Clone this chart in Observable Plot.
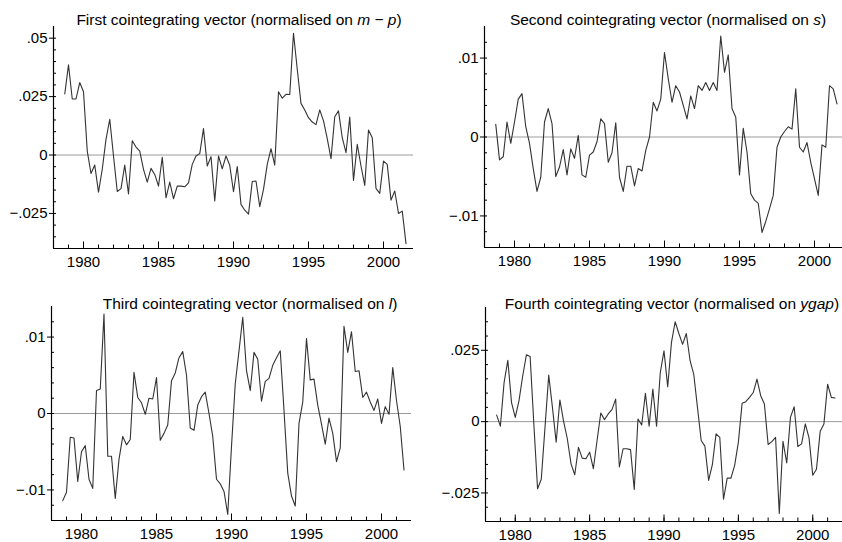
<!DOCTYPE html>
<html>
<head>
<meta charset="utf-8">
<script src="https://cdn.jsdelivr.net/npm/d3@7"></script>
<script src="https://cdn.jsdelivr.net/npm/@observablehq/plot@0.6"></script>
<style>
  html, body { margin: 0; padding: 0; background: #fff; }
  #chart { position: relative; width: 842px; height: 542px; overflow: hidden; font-family: "Liberation Sans", Arial, Helvetica, sans-serif; }
  #chart svg { position: absolute; overflow: visible; }
  .title { position: absolute; font-size: 15.5px; line-height: 18px; white-space: nowrap; transform: translateX(-50%); color: #000; }
</style>
</head>
<body>
<div id="chart"></div>
<script>
// Quarterly observations, 1978Q4 .. 2001Q3
const firstQuarter = 1978.75;

const firstVector = [
  0.0261, 0.0386, 0.0240, 0.0240, 0.0310, 0.0271, 0.0017, -0.0079, -0.0043, -0.0159,
  -0.0061, 0.0067, 0.0153, -0.0004, -0.0156, -0.0144, -0.0043, -0.0167, 0.0061, 0.0034,
  0.0017, -0.0061, -0.0116, -0.0057, -0.0083, -0.0133, -0.0010, -0.0183, -0.0116, -0.0187,
  -0.0133, -0.0133, -0.0136, -0.0119, -0.0040, -0.0004, 0.0006, 0.0113, -0.0047, -0.0007,
  -0.0197, -0.0004, -0.0059, -0.0004, -0.0044, -0.0157, -0.0049, -0.0211, -0.0236, -0.0253,
  -0.0113, -0.0111, -0.0221, -0.0147, -0.0040, 0.0027, -0.0043, 0.0271, 0.0243, 0.0260,
  0.0259, 0.0521, 0.0367, 0.0221, 0.0193, 0.0160, 0.0141, 0.0130, 0.0193, 0.0146,
  0.0070, -0.0016, 0.0164, 0.0189, 0.0074, 0.0010, 0.0163, -0.0109, 0.0046, -0.0047,
  -0.0130, 0.0107, 0.0074, -0.0143, -0.0164, -0.0026, -0.0040, -0.0193, -0.0154, -0.0250,
  -0.0240, -0.0379
];

const secondVector = [
  0.0016, -0.0029, -0.0025, 0.0019, -0.0008, 0.0019, 0.0048, 0.0055, 0.0013, -0.0008,
  -0.0040, -0.0069, -0.0051, 0.0019, 0.0036, 0.0017, -0.0050, -0.0038, -0.0016, -0.0048,
  -0.0015, -0.0027, 0.0002, -0.0048, -0.0051, -0.0023, -0.0019, -0.0006, 0.0023, 0.0017,
  -0.0032, -0.0020, 0.0018, -0.0051, -0.0069, -0.0037, -0.0037, -0.0062, -0.0040, -0.0043,
  -0.0017, 0.0000, 0.0044, 0.0033, 0.0048, 0.0107, 0.0074, 0.0044, 0.0065, 0.0057,
  0.0040, 0.0023, 0.0052, 0.0036, 0.0065, 0.0059, 0.0069, 0.0059, 0.0069, 0.0059,
  0.0128, 0.0082, 0.0104, 0.0036, 0.0025, -0.0048, 0.0011, -0.0019, -0.0072, -0.0080,
  -0.0084, -0.0121, -0.0107, -0.0091, -0.0074, -0.0013, 0.0000, 0.0007, 0.0013, 0.0010,
  0.0061, -0.0013, -0.0019, -0.0007, -0.0032, -0.0053, -0.0074, -0.0010, -0.0013, 0.0065,
  0.0061, 0.0042
];

const thirdVector = [
  -0.0114, -0.0103, -0.0031, -0.0032, -0.0089, -0.0050, -0.0042, -0.0086, -0.0098, 0.0030,
  0.0032, 0.0130, -0.0056, -0.0056, -0.0111, -0.0060, -0.0030, -0.0041, -0.0034, 0.0054,
  0.0021, 0.0014, -0.0001, 0.0020, 0.0019, 0.0047, -0.0035, -0.0026, -0.0015, 0.0043,
  0.0053, 0.0073, 0.0081, 0.0050, -0.0019, -0.0022, 0.0011, 0.0022, 0.0028, 0.0000,
  -0.0030, -0.0086, -0.0092, -0.0102, -0.0132, -0.0043, 0.0039, 0.0082, 0.0126, 0.0056,
  0.0030, 0.0080, 0.0071, 0.0016, 0.0042, 0.0046, 0.0063, 0.0073, 0.0082, 0.0004,
  -0.0078, -0.0108, -0.0121, -0.0013, 0.0015, 0.0098, 0.0044, 0.0045, 0.0011, -0.0014,
  -0.0040, -0.0006, -0.0026, -0.0063, -0.0045, 0.0114, 0.0080, 0.0107, 0.0055, 0.0056,
  0.0021, 0.0028, 0.0015, 0.0004, 0.0019, -0.0013, 0.0009, -0.0001, 0.0060, 0.0017,
  -0.0017, -0.0074
];

const fourthVector = [
  0.0023, -0.0016, 0.0137, 0.0215, 0.0067, 0.0015, 0.0073, 0.0160, 0.0234, 0.0228,
  -0.0008, -0.0235, -0.0202, -0.0020, 0.0163, 0.0050, -0.0072, 0.0076, 0.0001, -0.0060,
  -0.0148, -0.0186, -0.0090, -0.0128, -0.0130, -0.0107, -0.0165, -0.0066, 0.0030, 0.0007,
  0.0027, 0.0042, 0.0079, -0.0159, -0.0095, -0.0095, -0.0098, -0.0238, 0.0009, -0.0012,
  0.0099, -0.0016, 0.0114, -0.0016, 0.0172, 0.0248, 0.0122, 0.0277, 0.0350, 0.0309,
  0.0271, 0.0309, 0.0215, 0.0166, 0.0050, -0.0066, -0.0086, -0.0206, -0.0151, -0.0043,
  -0.0055, -0.0272, -0.0198, -0.0198, -0.0153, -0.0072, 0.0064, 0.0070, 0.0085, 0.0102,
  0.0149, 0.0091, 0.0062, -0.0080, -0.0070, -0.0055, -0.0322, -0.0069, -0.0145, 0.0015,
  0.0052, -0.0087, -0.0078, -0.0008, -0.0057, -0.0188, -0.0167, -0.0034, -0.0008, 0.0131,
  0.0085, 0.0083
];

const xDomain = [1978, 2002];
const xMajorTicks = [1980, 1985, 1990, 1995, 2000];
const xMinorTicks = [1979, 1980, 1981, 1982, 1983, 1984, 1985, 1986, 1987, 1988, 1989, 1990,
  1991, 1992, 1993, 1994, 1995, 1996, 1997, 1998, 1999, 2000, 2001];

const firstYMajor = [-0.025, 0, 0.025, 0.05];
const firstYMinor = [-0.035, -0.03, -0.025, -0.02, -0.015, -0.01, -0.005, 0, 0.005, 0.01, 0.015,
  0.02, 0.025, 0.03, 0.035, 0.04, 0.045, 0.05];
const smallYMajor = [-0.01, 0, 0.01];
const smallYMinor = [-0.012, -0.01, -0.008, -0.006, -0.004, -0.002, 0, 0.002, 0.004, 0.006,
  0.008, 0.01, 0.012];
const fourthYMajor = [-0.025, 0, 0.025];
const fourthYMinor = [-0.03, -0.025, -0.02, -0.015, -0.01, -0.005, 0, 0.005, 0.01, 0.015, 0.02,
  0.025, 0.03, 0.035];

const titles = [
  'First cointegrating vector (normalised on <i>m</i> − <i>p</i>)',
  'Second cointegrating vector (normalised on <i>s</i>)',
  'Third cointegrating vector (normalised on <i>l</i>)',
  'Fourth cointegrating vector (normalised on <i>ygap</i>)'
];

const fmt = v => v === 0 ? "0" : (v < 0 ? "\u2212" : "") + String(Math.abs(v)).replace(/^0/, "");

const panels = [
  {values: firstVector, yDomain: [-0.04, 0.055], yMajor: firstYMajor, yMinor: firstYMinor,
   left: 0, top: 0, width: 421, height: 280, mL: 53, mR: 8, mT: 26, mB: 32,
   titleX: 239, titleY: 10.5},
  {values: secondVector, yDomain: [-0.014, 0.014], yMajor: smallYMajor, yMinor: smallYMinor,
   left: 421, top: 0, width: 431, height: 280, mL: 63, mR: 8, mT: 26, mB: 33,
   titleX: 668, titleY: 10.5},
  {values: thirdVector, yDomain: [-0.014, 0.014], yMajor: smallYMajor, yMinor: smallYMinor,
   left: 0, top: 280, width: 421, height: 262, mL: 51, mR: 10, mT: 26, mB: 22,
   titleX: 250, titleY: 294.5},
  {values: fourthVector, yDomain: [-0.035, 0.04], yMajor: fourthYMajor, yMinor: fourthYMinor,
   left: 421, top: 280, width: 431, height: 262, mL: 64, mR: 10, mT: 27, mB: 21,
   titleX: 672, titleY: 294.5}
];

const chart = document.getElementById("chart");

panels.forEach((p, k) => {
  const frameW = p.width - p.mL - p.mR;
  const frameH = p.height - p.mT - p.mB;
  const series = p.values.map((v, i) => ({date: firstQuarter + i / 4, value: v}));
  const svg = Plot.plot({
    width: p.width,
    height: p.height,
    marginLeft: p.mL, marginRight: p.mR, marginTop: p.mT, marginBottom: p.mB,
    style: {fontSize: "15px", fontFamily: '"Liberation Sans", Arial, Helvetica, sans-serif', color: "#000", background: "transparent"},
    x: {domain: xDomain},
    y: {domain: p.yDomain},
    marks: [
      Plot.ruleY([0], {stroke: "#9a9a9a", strokeWidth: 1}),
      Plot.lineY(series, {x: "date", y: "value", stroke: "#333", strokeWidth: 1.1}),
      Plot.ruleX(xMinorTicks, {x: d => d, stroke: "#000", insetTop: frameH - 3.5}),
      Plot.ruleX(xMajorTicks, {x: d => d, stroke: "#000", insetTop: frameH - 6.5}),
      Plot.ruleY(p.yMinor, {y: d => d, stroke: "#000", insetRight: frameW - 3}),
      Plot.ruleX([xDomain[0]], {stroke: "#000", strokeWidth: 1.2}),
      Plot.ruleY([p.yDomain[0]], {stroke: "#000", strokeWidth: 1.2}),
      Plot.axisX({ticks: xMajorTicks, tickSize: 0, tickPadding: 8, tickFormat: d => String(d), label: null, fontSize: 15}),
      Plot.axisY({ticks: p.yMajor, tickSize: 4, tickPadding: 2, tickFormat: fmt, label: null, fontSize: 15})
    ]
  });
  svg.style.left = p.left + "px";
  svg.style.top = p.top + "px";
  chart.appendChild(svg);

  const t = document.createElement("div");
  t.className = "title";
  t.innerHTML = titles[k];
  t.style.left = p.titleX + "px";
  t.style.top = p.titleY + "px";
  chart.appendChild(t);
});
</script>
</body>
</html>
